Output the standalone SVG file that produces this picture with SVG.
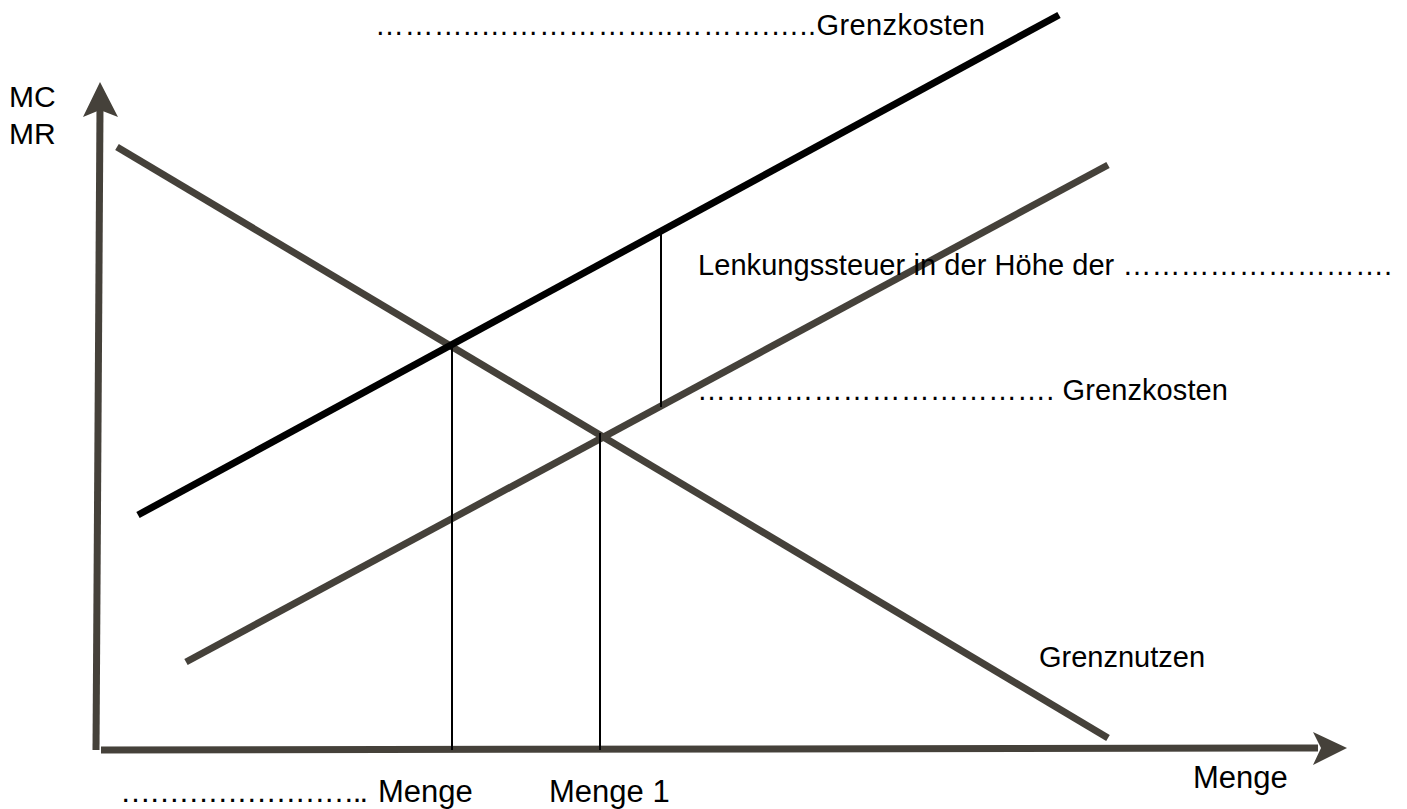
<svg xmlns="http://www.w3.org/2000/svg" width="1407" height="809" viewBox="0 0 1407 809">
<style>
.t{font-family:"Liberation Sans",Arial,sans-serif;font-size:29px;fill:#000}
.b{font-size:31px}
.ax{stroke:#45413a;stroke-width:7;fill:none}
.curve{stroke:#45413a;stroke-width:7;fill:none}
.mc2{stroke:#000;stroke-width:7;fill:none}
.v{stroke:#000;stroke-width:2;fill:none}
.head{fill:#45413a}
</style>
<rect width="1407" height="809" fill="#fff"/>
<g id="axes">
<line class="ax" x1="96" y1="750" x2="100" y2="108"/>
<polygon class="head" points="100,82 118,117 100,110 83,117"/>
<line class="ax" x1="101" y1="750" x2="1318" y2="748"/>
<polygon class="head" points="1347,748 1313,765 1321,748 1313,732"/>
</g>
<g id="connectors">
<line class="curve" x1="117" y1="147" x2="1108" y2="738"/>
<line class="curve" x1="186" y1="662" x2="1108" y2="165"/>
<line class="mc2" x1="138" y1="515" x2="1059" y2="15"/>
<line class="v" x1="452" y1="345" x2="452" y2="750"/>
<line class="v" x1="600" y1="433" x2="600" y2="750"/>
<line class="v" x1="661" y1="232" x2="661" y2="407"/>
</g>
<g id="labels">
<text class="t" x="9" y="107" style="font-size:30px">MC</text>
<text class="t" x="9" y="144" style="font-size:30px">MR</text>
<text class="t" x="375" y="35" textLength="610" lengthAdjust="spacing">………..………………..……….…..Grenzkosten</text>
<text class="t" x="698" y="275" textLength="694" lengthAdjust="spacing">Lenkungssteuer in der Höhe der ……………………….</text>
<text class="t" x="697" y="400" textLength="531" lengthAdjust="spacing">………………………………. Grenzkosten</text>
<text class="t" x="1039" y="667">Grenznutzen</text>
<text class="t b" x="1193" y="788">Menge</text>
<text class="t b" x="120" y="802"><tspan textLength="248" lengthAdjust="spacing">……………………..</tspan> <tspan x="378">Menge</tspan></text>
<text class="t b" x="549" y="802">Menge 1</text>
</g>
</svg>
